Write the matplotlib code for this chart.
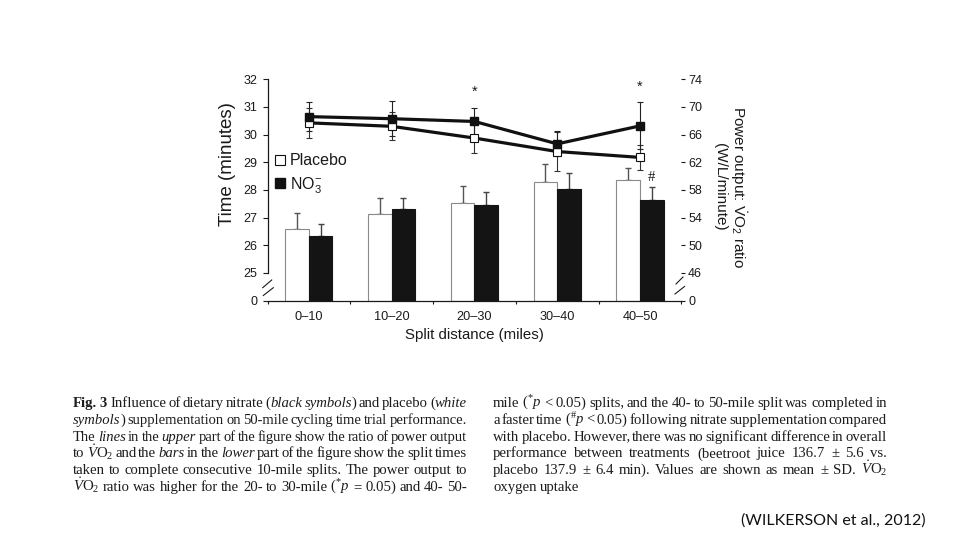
import matplotlib
matplotlib.use("Agg")
import matplotlib.pyplot as plt
import numpy as np
from matplotlib.lines import Line2D
from matplotlib.transforms import IdentityTransform

plt.rcParams['mathtext.fontset'] = 'custom'
plt.rcParams['mathtext.rm'] = 'Liberation Serif'
plt.rcParams['mathtext.it'] = 'Liberation Serif:italic'
plt.rcParams['mathtext.bf'] = 'Liberation Serif:bold'
plt.rcParams['mathtext.sf'] = 'Liberation Sans'
plt.rcParams['font.family'] = ['Liberation Sans', 'DejaVu Sans']

# ---------------- data ----------------
splits = ['0–10', '10–20', '20–30', '30–40', '40–50']
time_placebo = [26.57, 27.12, 27.52, 28.30, 28.34]
time_placebo_sd = [0.59, 0.60, 0.61, 0.65, 0.44]
time_nitrate = [26.35, 27.30, 27.45, 28.02, 27.64]
time_nitrate_sd = [0.41, 0.40, 0.47, 0.60, 0.47]
ratio_placebo = [67.7, 67.2, 65.5, 63.55, 62.7]
ratio_placebo_sd = [2.15, 2.05, 2.1, 2.8, 1.85]
ratio_nitrate = [68.6, 68.3, 67.9, 64.66, 67.26]
ratio_nitrate_sd = [2.15, 2.5, 2.0, 1.8, 3.4]
ratio_sig = [2, 4]          # * p<=0.05 (power output : VO2 ratio)
time_sig = [4]              # # p<0.05 (split time)
time_break = 24             # axis break: shown as "0"
left_ticks = [24, 25, 26, 27, 28, 29, 30, 31, 32]
left_ticklabels = ['0', '25', '26', '27', '28', '29', '30', '31', '32']
right_ticks = [42, 46, 50, 54, 58, 62, 66, 70, 74]
right_ticklabels = ['0', '46', '50', '54', '58', '62', '66', '70', '74']

caption_left = [
    "@Fig. 3@  Influence of dietary nitrate (~black symbols~) and placebo (~white~",
    "~symbols~) supplementation on 50-mile cycling time trial performance.",
    "The ~lines~ in the ~upper~ part of the figure show the ratio of power output",
    "to $\\dot{V}$O$_2$ and the ~bars~ in the ~lower~ part of the figure show the split times",
    "taken to complete consecutive 10-mile splits. The power output to",
    "$\\dot{V}$O$_2$ ratio was higher for the 20- to 30-mile (${}^{*}p$ = 0.05) and 40- 50-",
]
caption_right = [
    "mile (${}^{*}p$ < 0.05) splits, and the 40- to 50-mile split was completed in",
    "a faster time (${}^{\\#}p$ < 0.05) following nitrate supplementation compared",
    "with placebo. However, there was no significant difference in overall",
    "performance between treatments (beetroot juice 136.7 ± 5.6 vs.",
    "placebo 137.9 ± 6.4 min). Values are shown as mean ± SD. $\\dot{V}$O$_2$",
    "oxygen uptake",
]
citation = "(WILKERSON et al., 2012)"

# ---------------- figure ----------------
W, H = 960, 540
fig = plt.figure(figsize=(W / 100, H / 100), dpi=100)
fig.patch.set_facecolor('white')

ax_l, ax_r, ax_t, ax_b = 267.5, 681.4, 79.3, 300.5
ax = fig.add_axes([ax_l / W, 1 - ax_b / H, (ax_r - ax_l) / W, (ax_b - ax_t) / H])
ax.set_facecolor('none')
ink = '#1a1a1a'

x = np.arange(len(splits))
bw = 0.285
tp = np.array(time_placebo); tn = np.array(time_nitrate)
ax.bar(x - bw / 2, tp - time_break, bw, bottom=time_break, color='white',
       edgecolor='#8a8a8a', linewidth=0.8, zorder=2)
ax.bar(x + bw / 2, tn - time_break, bw, bottom=time_break, color='#141414',
       edgecolor='#141414', linewidth=0.8, zorder=2)
ax.errorbar(x - bw / 2, tp, yerr=[np.zeros(len(x)), time_placebo_sd], fmt='none',
            ecolor='#555555', elinewidth=1.0, capsize=2.2, capthick=1.0, zorder=1)
ax.errorbar(x + bw / 2, tn, yerr=[np.zeros(len(x)), time_nitrate_sd], fmt='none',
            ecolor='#444444', elinewidth=1.0, capsize=2.2, capthick=1.0, zorder=1)
for i in time_sig:
    ax.annotate('#', (x[i] + bw / 2, tn[i] + time_nitrate_sd[i]), xytext=(0, 7),
                textcoords='offset points', ha='center', va='center', fontsize=10.5,
                color=ink, family='Liberation Serif')

ax.set_xlim(-0.5, 4.5)
ax.set_ylim(left_ticks[0], left_ticks[-1])
ax.set_yticks(left_ticks)
ax.set_yticklabels(left_ticklabels)
ax.set_xticks(x)
ax.set_xticklabels(splits)
ax.set_xticks(np.arange(-0.5, 4.6, 1.0), minor=True)
ax.tick_params(axis='x', which='major', length=0, pad=7.5, labelsize=9.2, colors=ink)
ax.tick_params(axis='x', which='minor', length=2.5, width=0.8, direction='out', color=ink)
ax.tick_params(axis='y', length=3.6, width=0.8, pad=3.6, labelsize=9, colors=ink)
for s in ['top', 'right']:
    ax.spines[s].set_visible(False)
ax.spines['left'].set_bounds(25, 32)
ax.spines['left'].set_color(ink)
ax.spines['bottom'].set_color(ink)
ax.spines['left'].set_linewidth(0.9)
ax.spines['bottom'].set_linewidth(0.9)
ax.set_xlabel('Split distance (miles)', fontsize=10.8, color=ink, labelpad=4)
ax.set_ylabel('Time (minutes)', fontsize=13.5, color=ink)
ax.yaxis.label.set_va('center')
ax.yaxis.set_label_coords((228 - ax_l) / (ax_r - ax_l), (ax_b - 164) / (ax_b - ax_t))

# axis break marks
def px2ax(px, py):
    return (px - ax_l) / (ax_r - ax_l), (ax_b - py) / (ax_b - ax_t)
for (p0, p1) in [((262.7, 287.7), (271.7, 280.0)), ((263.3, 295.5), (273.3, 287.7)),
                 ((676.0, 284.0), (683.0, 277.0)), ((675.0, 294.0), (684.5, 286.5))]:
    a0 = px2ax(*p0); a1 = px2ax(*p1)
    ax.plot([a0[0], a1[0]], [a0[1], a1[1]], transform=ax.transAxes, color=ink,
            lw=0.8, clip_on=False)

# right axis: power output : VO2 ratio
ax2 = ax.twinx()
ax2.set_ylim(right_ticks[0], right_ticks[-1])
ax2.set_yticks(right_ticks)
ax2.set_yticklabels(right_ticklabels)
for s in ax2.spines.values():
    s.set_visible(False)
ax2.tick_params(axis='y', length=2.6, width=0.8, pad=2.2, labelsize=9, colors=ink)
ax2.errorbar(x, ratio_placebo, yerr=ratio_placebo_sd, fmt='none', ecolor='#333333',
             elinewidth=0.8, capsize=2.3, capthick=0.8, zorder=3)
ax2.errorbar(x, ratio_nitrate, yerr=ratio_nitrate_sd, fmt='none', ecolor='#222222',
             elinewidth=0.8, capsize=2.3, capthick=0.8, zorder=3)
ax2.plot(x, ratio_placebo, color='#111111', lw=2.3, marker='s', ms=6.2,
         mfc='white', mec='#111111', mew=0.8, zorder=4)
ax2.plot(x, ratio_nitrate, color='#111111', lw=2.3, marker='s', ms=6.2,
         mfc='#111111', mec='#111111', zorder=5)
rn = np.array(ratio_nitrate)
for i in ratio_sig:
    ax2.annotate('*', (x[i], rn[i] + ratio_nitrate_sd[i]), xytext=(0, 11.5),
                 textcoords='offset points', ha='center', va='center', fontsize=10.5,
                 color=ink)
ax2.set_ylabel('Power output: $\\dot{\\mathsf{V}}\\mathsf{O}_{\\mathsf{2}}$ ratio\n(W/L/minute)',
               rotation=270, fontsize=11, color=ink, linespacing=1.05)
ax2.yaxis.label.set_va('center')
ax2.yaxis.set_label_coords((731 - ax_l) / (ax_r - ax_l), (ax_b - 186.5) / (ax_b - ax_t))

handles = [Line2D([], [], ls='none', marker='s', ms=7.5, mfc='white', mec='#111111', mew=0.8),
           Line2D([], [], ls='none', marker='s', ms=7.5, mfc='#111111', mec='#111111')]
leg = ax.legend(handles, ['Placebo', 'NO$_{\\mathsf{3}}^{\\mathsf{-}}$'], loc='center left',
                bbox_to_anchor=(274 / W, 1 - 174 / H), bbox_transform=fig.transFigure,
                frameon=False, fontsize=11.5, handlelength=0.7, handletextpad=0.3,
                labelspacing=0.4, borderpad=0, borderaxespad=0)
for t in leg.get_texts():
    t.set_color(ink)

# ---------------- caption ----------------
fig.canvas.draw()
renderer = fig.canvas.get_renderer()
cap_fs = 10.6
cap_color = '#1c1c1c'

def make_text(s, it, bd, fs):
    return fig.text(0, 0, s, fontsize=fs, family='Liberation Serif',
                    style='italic' if it else 'normal', weight='bold' if bd else 'normal',
                    transform=IdentityTransform(), ha='left', va='baseline', color=cap_color)

def parse_word(word, state):
    runs = []
    buf = ''
    in_math = False
    it, bd = state
    for ch in word:
        if ch == '$':
            in_math = not in_math
            buf += ch
        elif not in_math and ch in '~@':
            if buf:
                runs.append((buf, it, bd)); buf = ''
            if ch == '~':
                it = not it
            else:
                bd = not bd
        else:
            buf += ch
    if buf:
        runs.append((buf, it, bd))
    return runs, (it, bd)

sp_a = make_text('a a', False, False, cap_fs); sp_b = make_text('aa', False, False, cap_fs)
space_w = sp_a.get_window_extent(renderer).width - sp_b.get_window_extent(renderer).width
sp_a.remove(); sp_b.remove()

def build_line(words_runs, fs):
    items = []
    for runs in words_runs:
        texts = []
        for (s, it, bd) in runs:
            t = make_text(s, it, bd, fs)
            texts.append((t, t.get_window_extent(renderer).width))
        items.append(texts)
    return items

def layout(lines, x0, x1, y0, dy, last_justified):
    state = (False, False)
    for k, line in enumerate(lines):
        words_runs = []
        for w in line.split(' '):
            runs, state = parse_word(w, state)
            words_runs.append(runs)
        n = len(words_runs)
        items = build_line(words_runs, cap_fs)
        widths = [sum(wd for _, wd in tx) for tx in items]
        min_gap = 0.55 * space_w
        if sum(widths) + (n - 1) * min_gap > (x1 - x0):
            fs2 = cap_fs * ((x1 - x0) - (n - 1) * min_gap) / sum(widths)
            for tx in items:
                for t, _ in tx:
                    t.remove()
            items = build_line(words_runs, fs2)
            widths = [sum(wd for _, wd in tx) for tx in items]
        justify = (k < len(lines) - 1) or last_justified
        gap = (x1 - x0 - sum(widths)) / max(n - 1, 1) if justify else space_w
        xx = x0
        yb = H - (y0 + k * dy)
        for tx, wsum in zip(items, widths):
            xc = xx
            for t, wd in tx:
                t.set_position((xc, yb)); xc += wd
            xx += wsum + gap

layout(caption_left, 73, 467, 407.0, 16.8, True)
layout(caption_right, 493, 887, 407.0, 16.8, False)

fig.text(833 / W, 1 - 521 / H, citation, fontsize=11.5, family=['Lato', 'DejaVu Sans'],
         ha='center', va='center', color='#111111')

fig.savefig('out.png', dpi=100, facecolor='white')
